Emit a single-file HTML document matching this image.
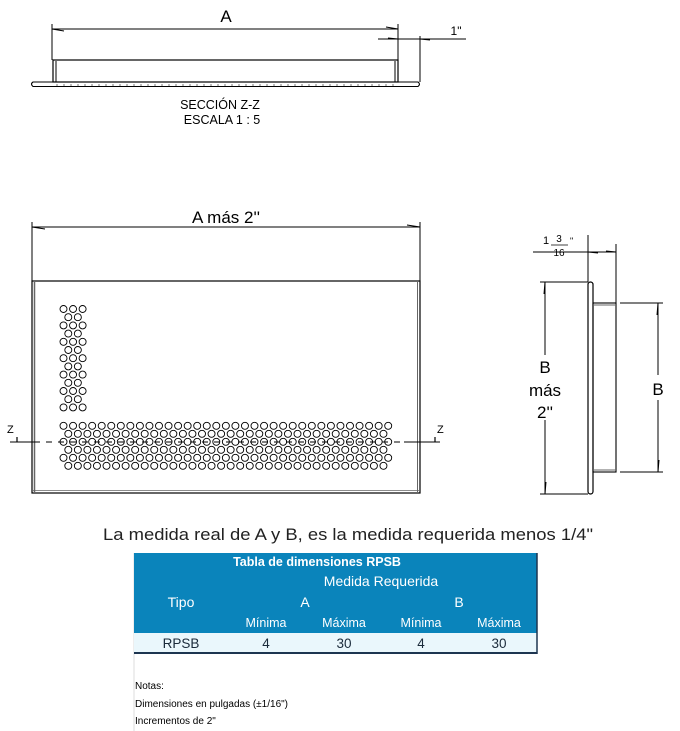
<!DOCTYPE html>
<html><head><meta charset="utf-8"><style>
html,body{margin:0;padding:0;background:#fff;width:680px;height:731px;overflow:hidden}
svg{display:block}
.t{font-family:"Liberation Sans",sans-serif}
</style></head><body>
<svg id="s" width="680" height="731" viewBox="0 0 680 731" xmlns="http://www.w3.org/2000/svg">
<g stroke="#000" fill="none" stroke-width="1">
<!-- Top section -->
<line x1="52" y1="24" x2="52" y2="60"/><line x1="398" y1="24" x2="398" y2="60"/>
<line x1="52" y1="29" x2="398" y2="29"/>
<path d="M52 29 l12 2 M398 29 l-12 -2" />
<line x1="378" y1="39" x2="466" y2="39"/>
<line x1="420" y1="36" x2="420" y2="82"/>
<path d="M398 39 l-10 -1 M420 39 l10 1"/>
<rect x="53" y="60" width="345" height="22" stroke-width="1.2"/>
<line x1="56" y1="61" x2="56" y2="82"/><line x1="395" y1="61" x2="395" y2="82"/>
<path d="M33 82 L53 82 M398 82 L418 82 Q421 84 418 86.5 L33 86.5 Q30 84 33 82 Z" stroke-width="1.1"/>
<line x1="56" y1="85" x2="395" y2="85" stroke="#777" stroke-dasharray="2 5"/>
<!-- Front view -->
<line x1="32" y1="222" x2="32" y2="281"/><line x1="420" y1="222" x2="420" y2="281"/>
<line x1="32" y1="227" x2="420" y2="227"/>
<path d="M32 227 l13 2 M420 227 l-13 -2"/>
<rect x="32" y="281" width="388" height="212" stroke-width="1.2"/>
<line x1="34.5" y1="282" x2="34.5" y2="492" stroke="#666" stroke-width="1.5"/>
<line x1="417.5" y1="282" x2="417.5" y2="492" stroke="#666" stroke-width="1"/>
<line x1="33" y1="490.5" x2="419" y2="490.5" stroke="#666" stroke-width="0.8"/>
<line x1="10" y1="442" x2="34" y2="442"/>
<line x1="34" y1="442" x2="404" y2="442" stroke-dasharray="6 6"/>
<line x1="404" y1="442" x2="440" y2="442"/>
<path d="M17 437 l0 5 M435 437 l0 5" stroke-width="1.2"/>
<g id="holes" stroke-width="0.9"></g>
<!-- Side view -->
<line x1="588" y1="235" x2="588" y2="282"/>
<line x1="616" y1="244" x2="616" y2="303"/>
<line x1="533" y1="252" x2="616" y2="252"/>
<path d="M588 252 l10 1 M616 252 l-10 -1"/>
<rect x="588" y="282" width="5" height="212" rx="2.5" stroke-width="1.2"/>
<rect x="593" y="303" width="23" height="169" stroke-width="1.1"/>
<line x1="594" y1="305" x2="616" y2="305" stroke="#666"/><line x1="594" y1="470" x2="616" y2="470" stroke="#666"/>
<line x1="540" y1="282" x2="588" y2="282"/><line x1="540" y1="494" x2="588" y2="494"/>
<line x1="545" y1="282" x2="545" y2="355"/><line x1="545" y1="420" x2="545" y2="494"/>
<path d="M545 282 l-1 12 M545 494 l1 -12"/>
<line x1="620" y1="303" x2="663" y2="303"/><line x1="620" y1="472" x2="663" y2="472"/>
<line x1="658" y1="303" x2="658" y2="375"/><line x1="658" y1="400" x2="658" y2="472"/>
<path d="M658 303 l-1 12 M658 472 l1 -12"/>
<line x1="551" y1="245" x2="568" y2="245" stroke-width="0.8"/>
</g>
<g class="t" fill="#000">
<text x="226" y="22" font-size="17" text-anchor="middle">A</text>
<text x="456" y="35" font-size="12" text-anchor="middle">1"</text>
<text x="220" y="109" font-size="12.5" text-anchor="middle">SECCIÓN Z-Z</text>
<text x="222" y="124" font-size="12.5" text-anchor="middle">ESCALA 1 : 5</text>
<text x="226" y="223" font-size="17" text-anchor="middle">A más 2''</text>
<text x="7" y="433" font-size="11">Z</text>
<text x="437" y="433" font-size="11">Z</text>
<text x="543" y="244" font-size="11">1</text>
<text x="559" y="242" font-size="10" text-anchor="middle">3</text>
<text x="559" y="256" font-size="10" text-anchor="middle">16</text>
<text x="570" y="244" font-size="9">"</text>
<text x="545" y="373" font-size="17" text-anchor="middle">B</text>
<text x="545" y="396" font-size="17" text-anchor="middle">más</text>
<text x="545" y="418" font-size="17" text-anchor="middle">2''</text>
<text x="658" y="395" font-size="17" text-anchor="middle">B</text>
<text x="103" y="540" font-size="16.5" textLength="490" lengthAdjust="spacingAndGlyphs" fill="#222">La medida real de A y B, es la medida requerida menos 1/4"</text>
</g>
<!-- Table -->
<line x1="134" y1="553" x2="134" y2="731" stroke="#ddd"/>
<rect x="134" y="553" width="403" height="80" fill="#0a84bb"/>
<rect x="134" y="633" width="403" height="19" fill="#eaf7fc"/>
<line x1="134" y1="653" x2="537" y2="653" stroke="#1d3550" stroke-width="2"/>
<line x1="537" y1="553" x2="537" y2="654" stroke="#1d3550" stroke-width="1.5"/>
<g class="t" fill="#fff" text-anchor="middle" font-size="13">
<text x="317" y="566" font-weight="bold" font-size="12.5">Tabla de dimensiones RPSB</text>
<text x="381" y="586" font-size="14">Medida Requerida</text>
<text x="181" y="607" font-size="14">Tipo</text>
<text x="305" y="607" font-size="14">A</text>
<text x="459" y="607" font-size="14">B</text>
<text x="266" y="627" font-size="12.5">Mínima</text>
<text x="344" y="627" font-size="12.5">Máxima</text>
<text x="421" y="627" font-size="12.5">Mínima</text>
<text x="499" y="627" font-size="12.5">Máxima</text>
</g>
<g class="t" fill="#1a2a3a" text-anchor="middle" font-size="13.5">
<text x="181" y="648">RPSB</text><text x="266" y="648">4</text><text x="344" y="648">30</text><text x="421" y="648">4</text><text x="499" y="648">30</text>
</g>
<g class="t" fill="#000" font-size="10">
<text x="135" y="689">Notas:</text>
<text x="135" y="707">Dimensiones en pulgadas (±1/16")</text>
<text x="135" y="724">Incrementos de 2"</text>
</g>
</svg>
<script>
var g=document.getElementById('holes'),ns='http://www.w3.org/2000/svg',p=9.55,r=3.5;
function c(x,y){var e=document.createElementNS(ns,'circle');e.setAttribute('cx',x);e.setAttribute('cy',y);e.setAttribute('r',r);g.appendChild(e);}
for(var i=0;i<13;i++){var y=309+i*8.2;if(i%2==0){for(var k=0;k<3;k++)c(63.5+k*p,y);}else{for(var k=0;k<2;k++)c(68.3+k*p,y);}}
for(var j=0;j<6;j++){var y=425.8+j*8;if(j%2==0){for(var k=0;k<35;k++)c(63.5+k*p,y);}else{for(var k=0;k<34;k++)c(68.3+k*p,y);}}
</script>
</body></html>
